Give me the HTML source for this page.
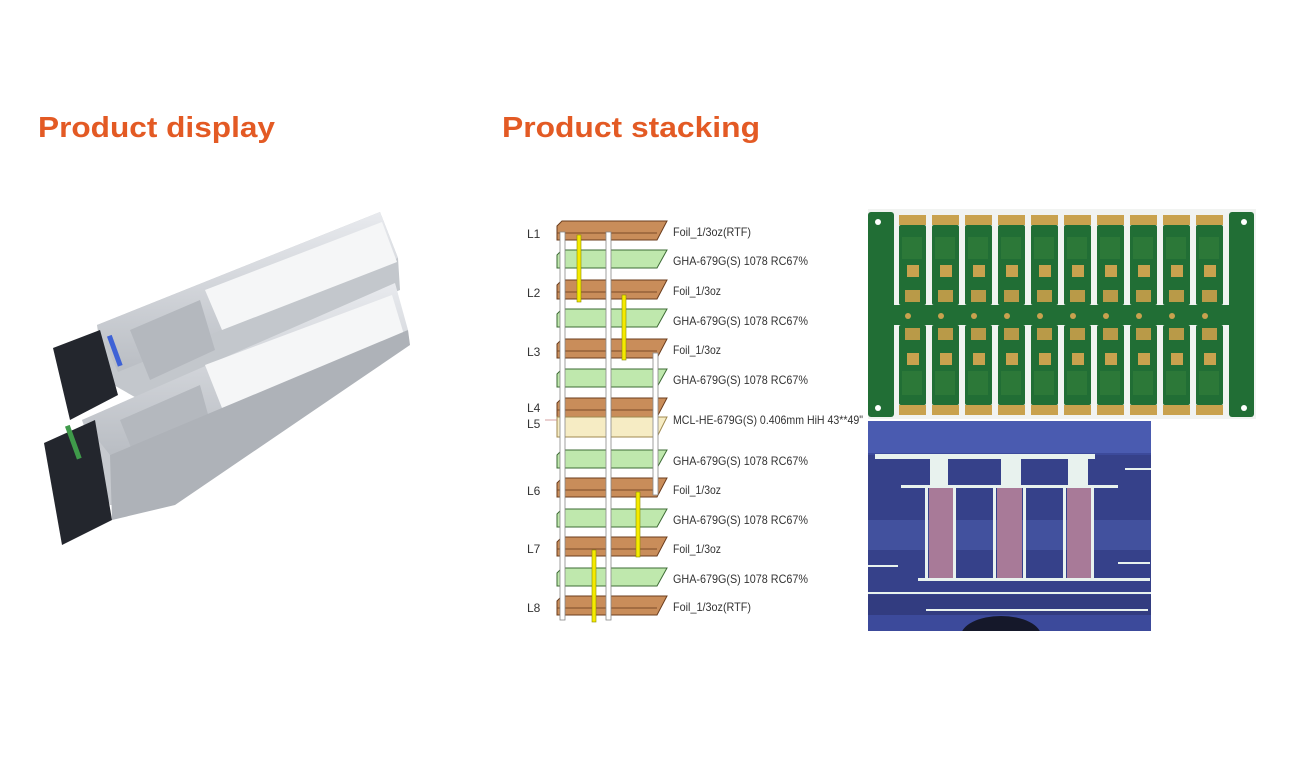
<!DOCTYPE html>
<html><head><meta charset="utf-8"><style>
html,body{margin:0;padding:0;background:#fff;}
svg{display:block;}
.t{font-family:"Liberation Sans",sans-serif;font-weight:bold;font-size:29px;fill:#e35a24;}
.l{font-family:"Liberation Sans",sans-serif;font-size:12px;fill:#333;}
</style></head><body>
<svg width="1310" height="778" viewBox="0 0 1310 778" xmlns="http://www.w3.org/2000/svg">
<defs>
<linearGradient id="met" x1="0" y1="0" x2="0" y2="1"><stop offset="0" stop-color="#e8eaee"/><stop offset="1" stop-color="#b9bdc3"/></linearGradient>
<clipPath id="mc"><rect x="868" y="421" width="283" height="210"/></clipPath>
<g id="brd">
<rect x="0" y="0" width="27" height="10" fill="#c9a24e"/>
<rect x="0" y="10" width="27" height="80" rx="2" fill="#216e35"/>
<rect x="8" y="50" width="12" height="12" fill="#c9a24e"/>
<rect x="3" y="22" width="20" height="22" fill="#2f7a3a" opacity=".8"/>
<rect x="6" y="75" width="15" height="12" fill="#b99a48"/>
</g>
<g id="brd2">
<rect x="0" y="80" width="27" height="10" fill="#c9a24e"/>
<rect x="0" y="0" width="27" height="80" rx="2" fill="#216e35"/>
<rect x="8" y="28" width="12" height="12" fill="#c9a24e"/>
<rect x="3" y="46" width="20" height="24" fill="#2f7a3a" opacity=".8"/>
<rect x="6" y="3" width="15" height="12" fill="#b99a48"/>
</g>
</defs>
<text class="t" x="38" y="137" textLength="237" lengthAdjust="spacingAndGlyphs">Product display</text>
<text class="t" x="502" y="137" textLength="258" lengthAdjust="spacingAndGlyphs">Product stacking</text>

<!-- transceivers -->
<g>
<polygon points="97,325 380,212 398,258 400,290 140,400 105,380" fill="#c3c7cc"/>
<polygon points="97,325 380,212 398,258 118,372" fill="url(#met)"/>
<polygon points="205,290 382,222 397,262 222,330" fill="#f5f6f7"/>
<polygon points="130,330 200,300 215,350 150,380" fill="#b4b8be"/>
<polygon points="53,348 100,330 118,395 70,420" fill="#23262d"/>
<rect x="112" y="335" width="5" height="32" fill="#3e62d6" transform="rotate(-20 114 350)"/>
<polygon points="82,420 395,283 408,335 170,505 110,505" fill="#c6c9ce"/>
<polygon points="82,420 395,283 408,330 110,455" fill="url(#met)"/>
<polygon points="205,365 392,295 405,338 222,408" fill="#f5f6f7"/>
<polygon points="120,420 200,385 215,440 140,470" fill="#b4b8be"/>
<polygon points="44,443 95,420 112,520 62,545" fill="#23262d"/>
<rect x="70" y="425" width="5" height="35" fill="#3f9a4a" transform="rotate(-20 72 440)"/>
<polygon points="110,455 408,330 410,345 175,505 112,520" fill="#aeb2b8"/>
</g>

<!-- stack -->
<g stroke="#6b3d1d" stroke-width="1">
<g fill="#c98d5a">
<polygon points="557,226 562,221 667,221 657,240 557,240"/>
<polygon points="557,285 562,280 667,280 657,299 557,299"/>
<polygon points="557,344 562,339 667,339 657,358 557,358"/>
<polygon points="557,403 562,398 667,398 657,417 557,417"/>
<polygon points="557,483 562,478 667,478 657,497 557,497"/>
<polygon points="557,542 562,537 667,537 657,556 557,556"/>
<polygon points="557,601 562,596 667,596 657,615 557,615"/>
</g>
<g fill="#bfe8ad" stroke="#3d6b35">
<polygon points="557,255 562,250 667,250 657,268 557,268"/>
<polygon points="557,314 562,309 667,309 657,327 557,327"/>
<polygon points="557,374 562,369 667,369 657,387 557,387"/>
<polygon points="557,455 562,450 667,450 657,468 557,468"/>
<polygon points="557,514 562,509 667,509 657,527 557,527"/>
<polygon points="557,573 562,568 667,568 657,586 557,586"/>
</g>
<polygon points="557,417 667,417 657,437 557,437" fill="#f6ecc4" stroke="#a08a50"/>
</g>
<g stroke="#7a4a28" stroke-width="1">
<line x1="557" y1="233" x2="657" y2="233"/><line x1="557" y1="292" x2="657" y2="292"/>
<line x1="557" y1="351" x2="657" y2="351"/><line x1="557" y1="410" x2="657" y2="410"/>
<line x1="557" y1="490" x2="657" y2="490"/><line x1="557" y1="549" x2="657" y2="549"/>
<line x1="557" y1="608" x2="657" y2="608"/>
</g>
<g fill="#fff" stroke="#888" stroke-width=".8">
<rect x="560" y="232" width="5" height="388"/>
<rect x="606" y="232" width="5" height="388"/>
<rect x="653" y="353" width="5" height="142"/>
</g>
<g fill="#f5ea00" stroke="#8a8a00" stroke-width=".6">
<rect x="577" y="235" width="4" height="67"/>
<rect x="622" y="295" width="4" height="65"/>
<rect x="636" y="492" width="4" height="65"/>
<rect x="592" y="550" width="4" height="72"/>
</g>
<line x1="545" y1="420" x2="557" y2="420" stroke="#c88" stroke-width=".8"/>
<g class="l">
<text x="527" y="238">L1</text><text x="527" y="297">L2</text><text x="527" y="356">L3</text>
<text x="527" y="412">L4</text><text x="527" y="428">L5</text><text x="527" y="495">L6</text>
<text x="527" y="553">L7</text><text x="527" y="612">L8</text>
<text x="673" y="236" textLength="78" lengthAdjust="spacingAndGlyphs">Foil_1/3oz(RTF)</text>
<text x="673" y="265" textLength="135" lengthAdjust="spacingAndGlyphs">GHA-679G(S) 1078 RC67%</text>
<text x="673" y="295" textLength="48" lengthAdjust="spacingAndGlyphs">Foil_1/3oz</text>
<text x="673" y="325" textLength="135" lengthAdjust="spacingAndGlyphs">GHA-679G(S) 1078 RC67%</text>
<text x="673" y="354" textLength="48" lengthAdjust="spacingAndGlyphs">Foil_1/3oz</text>
<text x="673" y="384" textLength="135" lengthAdjust="spacingAndGlyphs">GHA-679G(S) 1078 RC67%</text>
<text x="673" y="424" textLength="190" lengthAdjust="spacingAndGlyphs">MCL-HE-679G(S) 0.406mm HiH 43**49"</text>
<text x="673" y="465" textLength="135" lengthAdjust="spacingAndGlyphs">GHA-679G(S) 1078 RC67%</text>
<text x="673" y="494" textLength="48" lengthAdjust="spacingAndGlyphs">Foil_1/3oz</text>
<text x="673" y="524" textLength="135" lengthAdjust="spacingAndGlyphs">GHA-679G(S) 1078 RC67%</text>
<text x="673" y="553" textLength="48" lengthAdjust="spacingAndGlyphs">Foil_1/3oz</text>
<text x="673" y="583" textLength="135" lengthAdjust="spacingAndGlyphs">GHA-679G(S) 1078 RC67%</text>
<text x="673" y="611" textLength="78" lengthAdjust="spacingAndGlyphs">Foil_1/3oz(RTF)</text>
</g>

<!-- PCB panel -->
<rect x="868" y="209" width="388" height="210" fill="#f1f3f1"/>
<rect x="868" y="212" width="26" height="205" rx="3" fill="#216e35"/>
<rect x="1229" y="212" width="25" height="205" rx="3" fill="#216e35"/>
<rect x="868" y="305" width="386" height="20" fill="#216e35"/>
<g>
<use href="#brd" x="899" y="215"/><use href="#brd" x="932" y="215"/><use href="#brd" x="965" y="215"/><use href="#brd" x="998" y="215"/><use href="#brd" x="1031" y="215"/>
<use href="#brd" x="1064" y="215"/><use href="#brd" x="1097" y="215"/><use href="#brd" x="1130" y="215"/><use href="#brd" x="1163" y="215"/><use href="#brd" x="1196" y="215"/>
<use href="#brd2" x="899" y="325"/><use href="#brd2" x="932" y="325"/><use href="#brd2" x="965" y="325"/><use href="#brd2" x="998" y="325"/><use href="#brd2" x="1031" y="325"/>
<use href="#brd2" x="1064" y="325"/><use href="#brd2" x="1097" y="325"/><use href="#brd2" x="1130" y="325"/><use href="#brd2" x="1163" y="325"/><use href="#brd2" x="1196" y="325"/>
</g>
<g fill="#c9a24e">
<circle cx="908" cy="316" r="3"/><circle cx="941" cy="316" r="3"/><circle cx="974" cy="316" r="3"/><circle cx="1007" cy="316" r="3"/><circle cx="1040" cy="316" r="3"/>
<circle cx="1073" cy="316" r="3"/><circle cx="1106" cy="316" r="3"/><circle cx="1139" cy="316" r="3"/><circle cx="1172" cy="316" r="3"/><circle cx="1205" cy="316" r="3"/>
</g>
<g fill="#fff"><circle cx="878" cy="222" r="3"/><circle cx="878" cy="408" r="3"/><circle cx="1244" cy="222" r="3"/><circle cx="1244" cy="408" r="3"/></g>

<!-- micrograph -->
<g clip-path="url(#mc)">
<rect x="868" y="421" width="283" height="210" fill="#3c4a9b"/>
<rect x="868" y="421" width="283" height="32" fill="#4a5bb0"/>
<rect x="868" y="455" width="283" height="140" fill="#36418a"/>
<rect x="868" y="520" width="283" height="30" fill="#4b5cab" opacity=".6"/>
<rect x="868" y="595" width="283" height="20" fill="#323c80"/>
<g fill="#e8f2ee">
<rect x="875" y="454" width="220" height="5"/>
<rect x="930" y="454" width="18" height="32"/>
<rect x="1001" y="454" width="20" height="32"/>
<rect x="1068" y="454" width="20" height="32"/>
<rect x="901" y="485" width="217" height="3"/>
<rect x="925" y="486" width="3" height="94"/><rect x="953" y="486" width="3" height="94"/>
<rect x="993" y="486" width="3" height="94"/><rect x="1023" y="486" width="3" height="94"/>
<rect x="1063" y="486" width="3" height="94"/><rect x="1091" y="486" width="3" height="94"/>
<rect x="918" y="578" width="232" height="3"/>
<rect x="868" y="592" width="283" height="2"/>
<rect x="926" y="609" width="222" height="2"/>
<rect x="868" y="565" width="30" height="2"/><rect x="1118" y="562" width="32" height="2"/>
<rect x="1125" y="468" width="26" height="2"/>
</g>
<g fill="#a87a98">
<rect x="929" y="488" width="24" height="90"/>
<rect x="997" y="488" width="25" height="90"/>
<rect x="1067" y="488" width="24" height="90"/>
</g>
<ellipse cx="1001" cy="636" rx="40" ry="20" fill="#15182a"/>
</g>
</svg>
</body></html>
